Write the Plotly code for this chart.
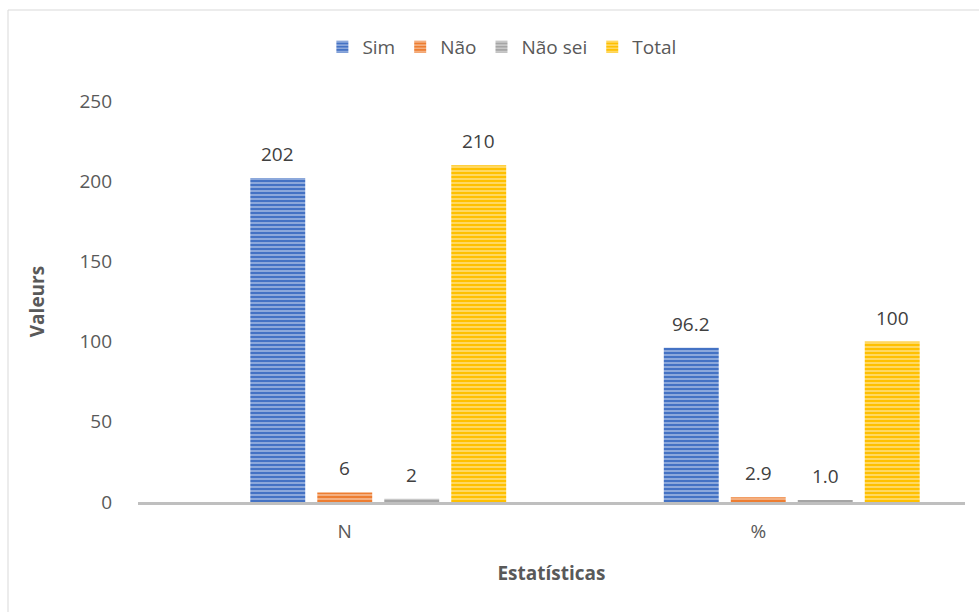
import plotly.graph_objects as go

categories = ["N", "%"]
series_names = ["Sim", "Não", "Não sei", "Total"]
sim_values = [202, 96.2]
nao_values = [6, 2.9]
nao_sei_values = [2, 1.0]
total_values = [210, 100]
sim_labels = ["202", "96.2"]
nao_labels = ["6", "2.9"]
nao_sei_labels = ["2", "1.0"]
total_labels = ["210", "100"]
y_ticks = [0, 50, 100, 150, 200, 250]

colors = ["#4472C4", "#ED7D31", "#A5A5A5", "#FFC000"]
values = [sim_values, nao_values, nao_sei_values, total_values]
labels = [sim_labels, nao_labels, nao_sei_labels, total_labels]

FONT = "Open Sans"
TXT = "#595959"

W, H = 979, 612
ML, MR, MT, MB = 138, 14, 101, 110
BARGAP, GROUPGAP = 0.19, 0.18
N_SLOTS = 5  # the original chart keeps an empty first slot in each group

fig = go.Figure()
# empty placeholder series occupying the first slot of each group (as in the source chart)
fig.add_trace(go.Bar(x=categories, y=[None, None], name="", showlegend=False, hoverinfo="skip"))
for name, vals, col in zip(series_names, values, colors):
    fig.add_trace(go.Bar(
        x=categories, y=vals, name=name,
        marker=dict(
            color=col,
            line=dict(width=0),
            pattern=dict(shape="-", bgcolor=col, fgcolor="rgba(255,255,255,0.55)",
                         size=4, solidity=0.35, fillmode="replace"),
        ),
    ))

# data labels above bars
cat_w = (W - ML - MR) / len(categories)
slot_w = cat_w * (1 - BARGAP) / N_SLOTS
annotations = []
for si, (vals, labs) in enumerate(zip(values, labels)):
    slot = si + 1
    shift = (slot - (N_SLOTS - 1) / 2) * slot_w
    for ci, (v, lab) in enumerate(zip(vals, labs)):
        annotations.append(dict(
            x=ci, y=v, xref="x", yref="y", text=lab, showarrow=False,
            xshift=shift, yshift=24, yanchor="middle",
            font=dict(family=FONT, size=19, color="#404040"),
        ))

fig.update_layout(
    width=W, height=H,
    margin=dict(l=ML, r=MR, t=MT, b=MB),
    paper_bgcolor="white", plot_bgcolor="white",
    barmode="group", bargap=BARGAP, bargroupgap=GROUPGAP,
    font=dict(family=FONT, size=19, color=TXT),
    showlegend=True,
    legend=dict(orientation="h", x=0.44, xanchor="center", y=1.135, yanchor="middle",
                font=dict(family=FONT, size=19, color=TXT), itemwidth=30,
                traceorder="normal"),
    xaxis=dict(
        showgrid=False, showline=True, linecolor="#BFBFBF", linewidth=3,
        ticks="", ticklabelstandoff=10, tickfont=dict(family=FONT, size=19, color=TXT),
        title=dict(text="<b>Estatísticas</b>", font=dict(family=FONT, size=19, color=TXT), standoff=24),
    ),
    yaxis=dict(
        range=[0, 250], tickvals=y_ticks, showgrid=False, zeroline=False, showline=False,
        ticks="", ticklabelstandoff=25, tickfont=dict(family=FONT, size=19, color=TXT),
        title=dict(text="<b>Valeurs</b>", font=dict(family=FONT, size=19, color=TXT), standoff=29),
    ),
    annotations=annotations,
    shapes=[dict(type="rect", xref="paper", yref="paper",
                 x0=(8 - ML) / (W - ML - MR), x1=1.2, y0=-0.5, y1=(H - MB - 10) / (H - MT - MB),
                 line=dict(color="#D9D9D9", width=1), fillcolor="rgba(0,0,0,0)", layer="below")],
)

fig.write_html("out.html")
